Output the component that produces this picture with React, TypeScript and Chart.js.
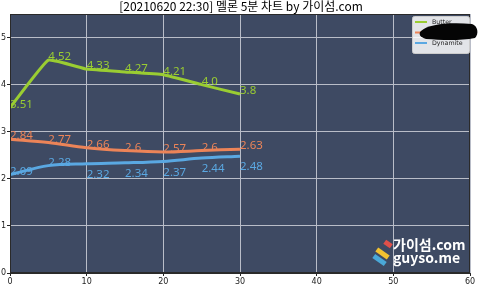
import React, { useEffect, useRef } from "react";
import { Chart, registerables } from "chart.js";

Chart.register(...registerables);

const titleText = "[20210620 22:30] 멜론 5분 차트 by 가이섬.com";
const minutes = [0, 5, 10, 15, 20, 25, 30];
const seriesNames = ["Butter", "Next Level", "Dynamite"];
const butter = [3.51, 4.52, 4.33, 4.27, 4.21, 4.0, 3.8];
const nextLevel = [2.84, 2.77, 2.66, 2.6, 2.57, 2.6, 2.63];
const dynamite = [2.09, 2.28, 2.32, 2.34, 2.37, 2.44, 2.48];
const dynamiteLabelShift = [0, 0, -0.3, -0.3, -0.3, -0.3, -0.3];
const zeroShift = [0, 0, 0, 0, 0, 0, 0];
const xTicks = [0, 10, 20, 30, 40, 50, 60];
const yTicks = [0, 1, 2, 3, 4, 5];

const colors = ["#9acd32", "#ec8458", "#5aa8e2"];

const fmt = (v: number) => (Number.isInteger(v) ? v.toFixed(1) : String(v));

export default function App() {
  const ref = useRef<HTMLCanvasElement | null>(null);

  useEffect(() => {
    document.body.style.margin = "0";
    const canvas = ref.current!;
    const shifts = [zeroShift, zeroShift, dynamiteLabelShift];

    const decor = {
      id: "decor",
      beforeDraw(chart: any) {
        const { ctx, chartArea: a } = chart;
        ctx.save();
        ctx.fillStyle = "#ffffff";
        ctx.fillRect(0, 0, chart.width, chart.height);
        ctx.fillStyle = "#3e4a63";
        ctx.fillRect(a.left, a.top, a.right - a.left, a.bottom - a.top);
        ctx.restore();
      },
      afterDatasetsDraw(chart: any) {
        const { ctx, chartArea: a } = chart;
        const xs = chart.scales.x;
        const ys = chart.scales.y;
        ctx.save();
        // value labels
        ctx.font = "11.5px 'Noto Sans'";
        ctx.textAlign = "left";
        ctx.textBaseline = "alphabetic";
        chart.data.datasets.forEach((ds: any, di: number) => {
          ctx.fillStyle = colors[di];
          ds.data.forEach((p: any, i: number) => {
            const px = xs.getPixelForValue(p.x);
            const py = ys.getPixelForValue(p.y + shifts[di][i]);
            ctx.fillText(fmt(p.y), px, py);
          });
        });
        // frame
        ctx.strokeStyle = "#2a2a2a";
        ctx.lineWidth = 1;
        ctx.strokeRect(a.left + 0.5, a.top + 0.5, a.right - a.left - 1, a.bottom - a.top - 1);

        // logo
        const stripes = [
          { c: "#e0504a", x: 388, y: 244, l: 4 },
          { c: "#f2c230", x: 382.5, y: 253.5, l: 7 },
          { c: "#4aa8d8", x: 379.5, y: 260, l: 7 },
        ];
        const ca = Math.cos((35 * Math.PI) / 180);
        const sa = Math.sin((35 * Math.PI) / 180);
        ctx.lineCap = "butt";
        ctx.lineWidth = 5;
        stripes.forEach((s) => {
          ctx.strokeStyle = s.c;
          ctx.beginPath();
          ctx.moveTo(s.x - s.l * ca, s.y - s.l * sa);
          ctx.lineTo(s.x + s.l * ca, s.y + s.l * sa);
          ctx.stroke();
        });
        ctx.fillStyle = "#ffffff";
        ctx.font = "bold 14px 'Noto Sans CJK KR'";
        ctx.textBaseline = "alphabetic";
        ctx.fillText("가이섬.com", 393, 250);
        ctx.fillText("guyso.me", 393, 263);

        // legend
        const lx = 412, ly = 16, lw = 57, lh = 37;
        ctx.fillStyle = "rgba(255,255,255,0.85)";
        ctx.strokeStyle = "#cccccc";
        ctx.lineWidth = 1;
        ctx.beginPath();
        (ctx as any).roundRect(lx + 0.5, ly + 0.5, lw, lh, 2);
        ctx.fill();
        ctx.stroke();
        ctx.font = "6.3px 'DejaVu Sans'";
        ctx.textBaseline = "middle";
        seriesNames.forEach((n, i) => {
          const yy = ly + 6 + i * 10.5;
          ctx.strokeStyle = colors[i];
          ctx.lineWidth = 2;
          ctx.beginPath();
          ctx.moveTo(lx + 3, yy);
          ctx.lineTo(lx + 15, yy);
          ctx.stroke();
          ctx.fillStyle = "#222";
          ctx.fillText(n, lx + 20, yy);
        });
        // redaction blob
        ctx.fillStyle = "#050505";
        ctx.beginPath();
        ctx.moveTo(421, 31);
        ctx.bezierCurveTo(428, 24, 450, 22, 472, 24);
        ctx.bezierCurveTo(478, 26, 479, 34, 475, 38);
        ctx.bezierCurveTo(460, 41, 440, 40, 426, 39);
        ctx.bezierCurveTo(420, 37, 418, 34, 421, 31);
        ctx.fill();

        // title
        ctx.fillStyle = "#000";
        ctx.font = "12px 'Noto Sans CJK KR'";
        ctx.textAlign = "center";
        ctx.textBaseline = "middle";
        ctx.fillText(titleText, 241, 6.5);
        ctx.restore();
      },
    };

    const mk = (vals: number[]) => vals.map((v, i) => ({ x: minutes[i], y: v }));

    const chart = new Chart(canvas, {
      type: "line",
      data: {
        datasets: [
          { label: seriesNames[0], data: mk(butter), borderColor: colors[0], borderWidth: 3, pointRadius: 0, tension: 0.1, fill: false },
          { label: seriesNames[1], data: mk(nextLevel), borderColor: colors[1], borderWidth: 3, pointRadius: 0, tension: 0.35, cubicInterpolationMode: "monotone", fill: false },
          { label: seriesNames[2], data: mk(dynamite), borderColor: colors[2], borderWidth: 3, pointRadius: 0, tension: 0.35, cubicInterpolationMode: "monotone", fill: false },
        ],
      },
      options: {
        animation: false,
        responsive: false,
        devicePixelRatio: 1,
        layout: { padding: { top: 14, right: 10, left: 0, bottom: 0 } },
        plugins: { legend: { display: false }, tooltip: { enabled: false }, title: { display: false } },
        scales: {
          x: {
            type: "linear",
            min: 0,
            max: 60,
            afterBuildTicks: (s: any) => { s.ticks = xTicks.map((v) => ({ value: v })); },
            afterFit: (s: any) => { s.height = 14; },
            grid: { color: "#b9bdc8", lineWidth: 1, tickLength: 3, tickColor: "#222" },
            border: { display: true, color: "#2a2a2a" },
            ticks: { color: "#222", font: { family: "DejaVu Sans", size: 8 }, padding: 1, maxRotation: 0 },
          },
          y: {
            type: "linear",
            min: 0,
            max: 5.5,
            afterBuildTicks: (s: any) => { s.ticks = yTicks.map((v) => ({ value: v })); },
            afterFit: (s: any) => { s.width = 10; },
            grid: { color: "#b9bdc8", lineWidth: 1, tickLength: 3, tickColor: "#222" },
            border: { display: true, color: "#2a2a2a" },
            ticks: { color: "#222", font: { family: "DejaVu Sans", size: 8 }, padding: 1 },
          },
        },
      },
      plugins: [decor],
    } as any);
    return () => chart.destroy();
  }, []);

  return (
    <div style={{ position: "absolute", left: 0, top: 0, width: 480, height: 287 }}>
      <canvas ref={ref} width={480} height={287} style={{ width: 480, height: 287 }} />
    </div>
  );
}
